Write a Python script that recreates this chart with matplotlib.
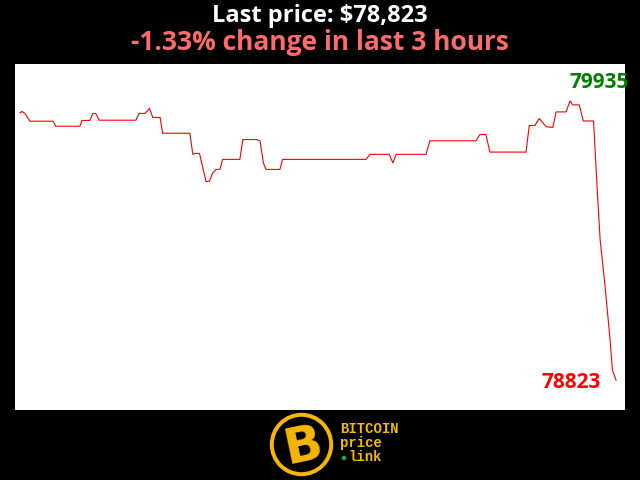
"""Bitcoin 3-hour price chart (last price + change), black frame with logo."""
import matplotlib
matplotlib.use("Agg")
import matplotlib.pyplot as plt
from matplotlib.patches import Circle

# minutes since start of the 3-hour window, price in USD
minutes = [0.0, 0.6, 1.5, 3.0, 10.0, 10.8, 18.1, 18.7, 21.1, 22.0, 22.9, 23.9, 35.0, 36.0,
           37.8, 39.1, 40.1, 42.3, 43.1, 51.3, 52.2, 52.9, 54.2, 56.2, 57.2, 58.2, 59.2,
           60.4, 61.2, 66.4, 67.3, 71.5, 72.5, 73.5, 74.3, 78.5, 79.3, 104.5, 105.7, 111.5,
           112.6, 113.6, 122.6, 123.8, 137.7, 138.9, 140.7, 141.9, 152.8, 153.8, 155.5,
           156.8, 158.9, 160.9, 161.9, 164.9, 166.1, 166.9, 168.9, 170.1, 173.2, 174.4,
           175.2, 176.7, 178.2, 178.9, 180.0]
prices = [79887, 79893, 79885, 79854, 79854, 79834, 79834, 79857, 79857, 79885, 79885, 79858,
          79858, 79885, 79885, 79905, 79869, 79869, 79806, 79806, 79722, 79726, 79726, 79613,
          79615, 79648, 79662, 79662, 79702, 79702, 79781, 79781, 79775, 79688, 79662, 79662,
          79702, 79702, 79722, 79722, 79688, 79722, 79722, 79776, 79776, 79801, 79801, 79731,
          79731, 79837, 79837, 79865, 79832, 79829, 79891, 79891, 79935, 79919, 79919, 79855,
          79855, 79560, 79381, 79194, 78983, 78863, 78823]

last_price = prices[-1]
hi, lo = max(prices), min(prices)
change_pct = -1.33
title1 = f"Last price: ${last_price:,}"
title2 = f"{change_pct:.2f}% change in last 3 hours"

fig = plt.figure(figsize=(6.4, 4.8), dpi=100, facecolor="black")
ax = fig.add_axes([15 / 640, 70 / 480, 610 / 640, 346 / 480])
ax.set_facecolor("white")
ax.plot(minutes, prices, color="#ff0000", lw=0.8)
rng = hi - lo
ax.set_xlim(-1.5, 182.7)
ax.set_ylim(lo - 0.107 * rng, hi + 0.132 * rng)
ax.set_xticks([]); ax.set_yticks([])
for s in ax.spines.values():
    s.set_visible(False)

fnt = ["Open Sans", "DejaVu Sans"]
fig.text(569 / 640, 1 - 83 / 480, str(hi), color="#008000", fontsize=15, fontweight="bold",
         family=fnt, ha="left", va="center")
fig.text(542 / 640, 1 - 383 / 480, str(last_price), color="#ff0000", fontsize=15,
         fontweight="bold", family=fnt, ha="left", va="center")

fig.text(0.5, 1 - 16 / 480, title1, color="white", fontsize=17, fontweight="bold",
         family=fnt, ha="center", va="center")
fig.text(0.5, 1 - 42 / 480, title2, color="#ff6b6b", fontsize=19, fontweight="bold",
         family=fnt, ha="center", va="center")

# logo
gold = "#f5b800"
lax = fig.add_axes([0, 0, 1, 70 / 480])
lax.set_xlim(0, 640); lax.set_ylim(70, 0); lax.set_aspect("equal"); lax.axis("off")
lax.add_patch(Circle((301.5, 34.5), 31, color=gold))
lax.add_patch(Circle((301.5, 34.5), 27, color="black"))
lax.text(303, 36, "B", color=gold, fontsize=36, fontweight="bold", family="DejaVu Sans",
         ha="center", va="center", rotation=12)
mono = "Liberation Mono"
lax.text(340, 19, "BITCOIN", color=gold, fontsize=10, fontweight="bold", family=mono, va="center")
lax.text(340, 33, "price", color=gold, fontsize=10, fontweight="bold", family=mono, va="center")
lax.text(348, 47, "link", color=gold, fontsize=10, fontweight="bold", family=mono, va="center")
lax.add_patch(Circle((344, 48), 1.6, color="#22aa22"))

fig.savefig("out.png", dpi=100, facecolor="black")
